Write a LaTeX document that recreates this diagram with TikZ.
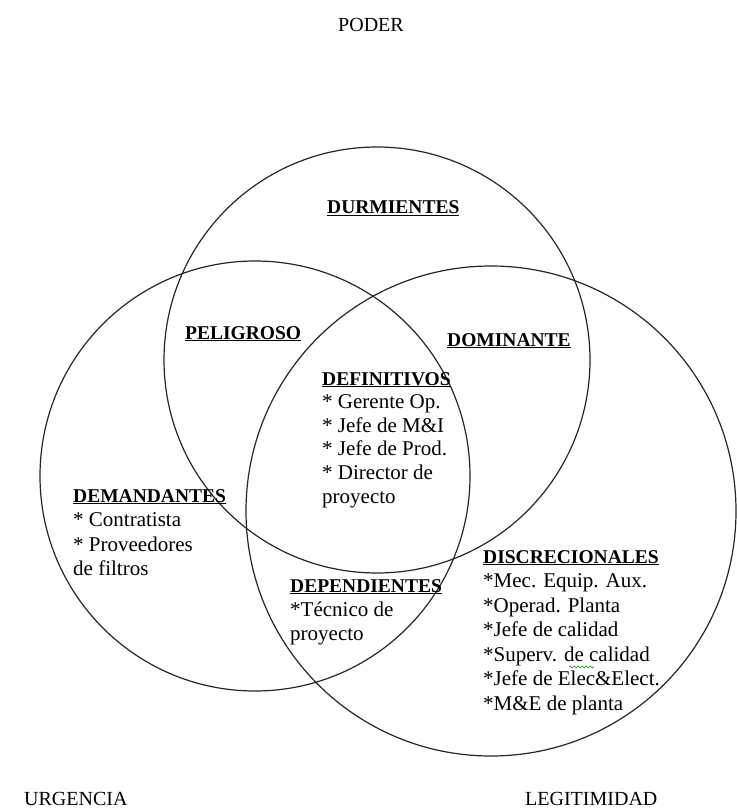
\documentclass[tikz,border=0pt]{standalone}
\usepackage{fontspec}
\setmainfont{Liberation Serif}
\usetikzlibrary{decorations.pathmorphing}
\newcommand\hdr[1]{{\fontsize{19.5}{24}\selectfont\underline{\textbf{#1}}}}
\begin{document}
\begin{tikzpicture}[x=1pt,y=-1pt,
  ring/.style={draw=black!85, line width=1.2pt},
  axislabel/.style={anchor=base west, inner sep=0pt, font=\fontsize{20}{24}\selectfont},
  region/.style={anchor=base west, inner sep=0pt, font=\fontsize{21}{24}\selectfont},
]
\useasboundingbox (0,0) rectangle (736,810);

% the three attribute circles
\draw[ring] (377,360) circle[radius=213pt];
\draw[ring] (255,476) circle[radius=215pt];
\draw[ring] (491,511) circle[radius=245pt];

% attribute names
\node[axislabel] (poder) at (338,32) {PODER};
\node[axislabel] (urgencia) at (24,805) {URGENCIA};
\node[axislabel] (legitimidad) at (525,805) {LEGITIMIDAD};

% single-attribute and pairwise regions
\node[region] (durmientes) at (327,214) {\hdr{DURMIENTES}};
\node[region] (peligroso) at (185,339) {\hdr{PELIGROSO}};
\node[region] (dominante) at (447,346) {\hdr{DOMINANTE}};

\node[region, font=\fontsize{21}{23.6}\selectfont] (definitivos) at (322,385)
  {\begin{tabular}[t]{@{}l@{}}\hdr{DEFINITIVOS}\\ {*} Gerente Op.\\ {*} Jefe de M\&I\\ {*} Jefe de Prod.\\ {*} Director de\\ proyecto\end{tabular}};

\node[region, font=\fontsize{21}{24.5}\selectfont] (demandantes) at (73,502)
  {\begin{tabular}[t]{@{}l@{}}\hdr{DEMANDANTES}\\ {*} Contratista\\ {*} Proveedores\\ de filtros\end{tabular}};

\node[region, font=\fontsize{21}{24}\selectfont] (dependientes) at (290,592)
  {\begin{tabular}[t]{@{}l@{}}\hdr{DEPENDIENTES}\\ {*}Técnico de\\ proyecto\end{tabular}};

\node[region, font=\fontsize{21}{24.5}\selectfont] (discrecionales) at (483,563)
  {\begin{tabular}[t]{@{}l@{}}\hdr{DISCRECIONALES}\\ {*}Mec. Equip. Aux.\\ {*}Operad. Planta\\ {*}Jefe de calidad\\ {*}Superv. de calidad\\ {*}Jefe de Elec\&Elect.\\ {*}M\&E de planta\end{tabular}};

% spelling mark under "de"
\coordinate (sqa) at (569,667);
\coordinate (sqb) at (594,667);
\draw[green!55!black, line width=0.6pt, decorate,
      decoration={snake, amplitude=0.9pt, segment length=4pt}] (sqa) -- (sqb);
\end{tikzpicture}
\end{document}
